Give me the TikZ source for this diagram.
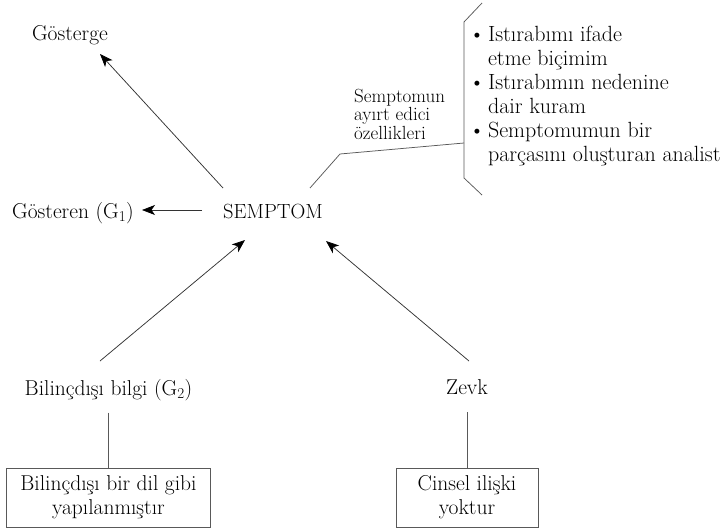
\documentclass[tikz,border=0pt]{standalone}
\usepackage{fontspec}
\usetikzlibrary{arrows.meta}
\begin{document}
\begin{tikzpicture}[x=1pt,y=-1pt,
  lbl/.style={font=\fontsize{21.5}{24}\selectfont, inner sep=0pt},
  arr/.style={draw=black!80, line width=0.75pt, -{Stealth[length=13pt,width=10pt,inset=3.5pt,color=black]}},
  ln/.style={draw=black!65, line width=0.75pt},
  boxn/.style={draw=black!65, line width=0.8pt, align=center, inner sep=0pt,
    font=\fontsize{21.5}{24}\selectfont}]
\useasboundingbox (0,0) rectangle (727,530);
% main nodes
\node[lbl,anchor=base] (gosterge) at (70,40) {Gösterge};
\node[lbl,anchor=base,font=\fontsize{20.5}{24}\selectfont] (semptom) at (273,218) {SEMPTOM};
\node[lbl,anchor=base] (gosteren) at (73,218) {Gösteren (G\textsubscript{1})};
\node[lbl,anchor=base] (bilgi) at (108.5,395) {Bilinçdışı bilgi (G\textsubscript{2})};
\node[lbl,anchor=base] (zevk) at (467,394) {Zevk};
\node[boxn, minimum width=204pt, minimum height=59pt] (box1) at (108.5,497.5) {Bilinçdışı bir dil gibi\\yapılanmıştır};
\node[boxn, minimum width=142pt, minimum height=59pt] (box2) at (467,497.5) {Cinsel ilişki\\yoktur};
% feature label
\node[anchor=base west, inner sep=0pt, font=\fontsize{19}{18}\selectfont] (feat) at (354,102)
  {\begin{tabular}[t]{@{}l@{}}Semptomun\\ayırt edici\\özellikleri\end{tabular}};
% list
\node[anchor=base west, inner sep=0pt, font=\fontsize{22}{24}\selectfont] (list) at (469,41)
  {\begin{tabular}[t]{@{}l@{\hspace{3pt}}l@{}}
   \textbullet & Istırabımı ifade\\
               & etme biçimim\\
   \textbullet & Istırabımın nedenine\\
               & dair kuram\\
   \textbullet & Semptomumun bir\\
               & parçasını oluşturan analist
   \end{tabular}};
% connector end points
\coordinate (sA) at (223,188);  \coordinate (gA) at (100,54);
\coordinate (sB) at (202,210);  \coordinate (gB) at (142,210);
\coordinate (bA) at (100,361);  \coordinate (sC) at (245,240);
\coordinate (zA) at (469,361);  \coordinate (sD) at (326,241);
\coordinate (fA) at (310,188);  \coordinate (fB) at (340,154);
\coordinate (brT) at (482,3);   \coordinate (brT2) at (464,22);
\coordinate (brB2) at (464,178); \coordinate (brB) at (482,195);
\coordinate (brM) at (464,143);
% arrows
\draw[arr] (sA) -- (gA);
\draw[arr] (sB) -- (gB);
\draw[arr] (bA) -- (sC);
\draw[arr] (zA) -- (sD);
% plain lines
\draw[ln, shorten <=12pt] (bilgi.south) -- (box1.north);
\draw[ln, shorten <=18pt] (zevk.south) -- (box2.north);
\draw[ln] (brT) -- (brT2) -- (brB2) -- (brB);
\draw[ln] (fA) -- (fB) -- (brM);
\end{tikzpicture}
\end{document}
